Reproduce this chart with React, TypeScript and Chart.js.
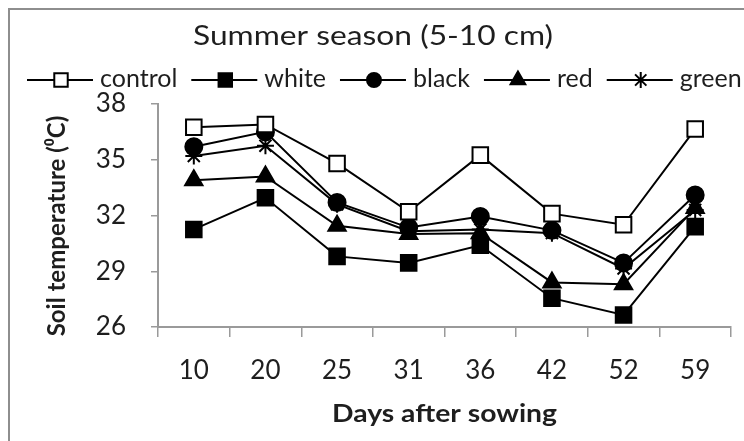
import { useEffect, useRef } from "react";
import { Chart, registerables } from "chart.js";
import { drawPoint } from "chart.js/helpers";

Chart.register(...registerables);

// Days after sowing
const days = ["10", "20", "25", "31", "36", "42", "52", "59"];

// Soil temperature (°C) at 5-10 cm depth, by mulch colour
const control = [36.75, 36.9, 34.8, 32.2, 35.25, 32.1, 31.5, 36.65];
const white = [31.25, 32.95, 29.8, 29.45, 30.4, 27.55, 26.65, 31.4];
const black = [35.7, 36.5, 32.7, 31.35, 31.95, 31.2, 29.45, 33.1];
const red = [33.9, 34.1, 31.45, 31.0, 31.05, 28.4, 28.3, 32.4];
const green = [35.2, 35.75, 32.6, 31.15, 31.25, 31.05, 29.15, 32.3];

const seriesNames = ["control", "white", "black", "red", "green"];
const seriesValues = [control, white, black, red, green];

const yMin = 26;
const yMax = 38;
const yStep = 3;

const titleText = "Summer season (5-10 cm)";
const xTitle = "Days after sowing";
const yTitle = "Soil temperature (\u2070C)";

const FONT = "Lato, 'Open Sans', sans-serif";
const INK = "#1e1e1e";
const AXIS = "#9a9a9a";

type Marker = { style: string; fill: string; radius: number; legendRadius: number };
const markers: Marker[] = [
  { style: "rect", fill: "#ffffff", radius: 11, legendRadius: 9.5 },
  { style: "rect", fill: "#000000", radius: 11, legendRadius: 9.5 },
  { style: "circle", fill: "#000000", radius: 8.5, legendRadius: 7 },
  { style: "triangle", fill: "#000000", radius: 10, legendRadius: 8.5 },
  { style: "star", fill: "#000000", radius: 8.5, legendRadius: 8 },
];

// Draws text centred at (cx, baseline) squeezed/stretched horizontally to a target width.
function fillTextWidth(ctx: CanvasRenderingContext2D, text: string, cx: number, baseline: number, width: number) {
  const w = ctx.measureText(text).width;
  const sx = width / w;
  ctx.save();
  ctx.translate(cx, baseline);
  ctx.scale(sx, 1);
  ctx.textAlign = "center";
  ctx.fillText(text, 0, 0);
  ctx.restore();
}

const decorPlugin = {
  id: "decor",
  beforeDraw(chart: Chart) {
    const ctx = chart.ctx;
    ctx.save();
    ctx.fillStyle = "#ffffff";
    ctx.fillRect(0, 0, chart.width, chart.height);
    // outer frame
    ctx.strokeStyle = "#8e8e8e";
    ctx.lineWidth = 2;
    ctx.strokeRect(9, 9, chart.width + 40, chart.height + 40);
    ctx.restore();
  },
  afterDraw(chart: Chart) {
    const ctx = chart.ctx;
    const area = chart.chartArea;
    ctx.save();
    ctx.fillStyle = INK;
    ctx.textBaseline = "alphabetic";

    // chart title
    ctx.font = `26px ${FONT}`;
    fillTextWidth(ctx, titleText, 373, 45, 360);

    // legend row
    ctx.font = `25px ${FONT}`;
    ctx.textAlign = "left";
    let x = 27;
    const ly = 80;
    seriesNames.forEach((name, i) => {
      const m = markers[i];
      ctx.strokeStyle = "#000";
      ctx.lineWidth = 2;
      ctx.beginPath();
      ctx.moveTo(x, ly);
      ctx.lineTo(x + 66, ly);
      ctx.stroke();
      ctx.fillStyle = m.fill;
      ctx.strokeStyle = "#000";
      ctx.lineWidth = 2;
      drawPoint(ctx, { pointStyle: m.style as any, radius: m.legendRadius, rotation: 0, borderWidth: 2 }, x + 34, ly);
      ctx.fillStyle = INK;
      const tx = x + 66 + 7;
      ctx.fillText(name, tx, ly + 7);
      x = tx + ctx.measureText(name).width + 14;
    });

    // axis titles
    ctx.font = `bold 24px ${FONT}`;
    fillTextWidth(ctx, xTitle, (area.left + area.right) / 2, 422, 225);

    ctx.textAlign = "center";
    ctx.translate(65, 226);
    ctx.rotate(-Math.PI / 2);
    ctx.fillText(yTitle, 0, 0);
    ctx.restore();
  },
};

export default function App() {
  const canvasRef = useRef<HTMLCanvasElement | null>(null);

  useEffect(() => {
    const canvas = canvasRef.current;
    if (!canvas) return;
    const chart = new Chart(canvas, {
      type: "line",
      data: {
        labels: days,
        datasets: seriesNames.map((name, i) => ({
          label: name,
          data: seriesValues[i],
          borderColor: "#000000",
          borderWidth: 2,
          tension: 0,
          fill: false,
          pointStyle: markers[i].style as any,
          pointRadius: markers[i].radius,
          pointHoverRadius: markers[i].radius,
          pointBackgroundColor: markers[i].fill,
          pointBorderColor: "#000000",
          pointBorderWidth: 2,
        })),
      },
      options: {
        animation: false,
        responsive: false,
        events: [],
        layout: { padding: { top: 104, right: 11, left: 0, bottom: 0 } },
        plugins: {
          legend: { display: false },
          title: { display: false },
          tooltip: { enabled: false },
        },
        scales: {
          x: {
            type: "category",
            offset: true,
            grid: {
              offset: true,
              drawOnChartArea: false,
              color: AXIS,
              lineWidth: 1.5,
              tickLength: 10,
            },
            border: { color: AXIS, width: 2 },
            ticks: {
              color: INK,
              font: { family: FONT, size: 26 },
              padding: 18,
              maxRotation: 0,
              autoSkip: false,
            },
            afterFit: (scale: any) => {
              scale.height = 114;
            },
          },
          y: {
            min: yMin,
            max: yMax,
            grid: {
              drawOnChartArea: false,
              color: AXIS,
              lineWidth: 1.5,
              tickLength: 7,
            },
            border: { color: AXIS, width: 2 },
            ticks: {
              stepSize: yStep,
              color: INK,
              font: { family: FONT, size: 26 },
              padding: 25,
            },
            afterFit: (scale: any) => {
              scale.width = 158;
            },
          },
        },
      },
      plugins: [decorPlugin],
    });
    return () => chart.destroy();
  }, []);

  return (
    <div style={{ position: "absolute", left: 0, top: 0, width: 744, height: 441, overflow: "hidden", background: "#fff" }}>
      <canvas ref={canvasRef} width={744} height={441} style={{ display: "block", width: 744, height: 441 }} />
    </div>
  );
}
